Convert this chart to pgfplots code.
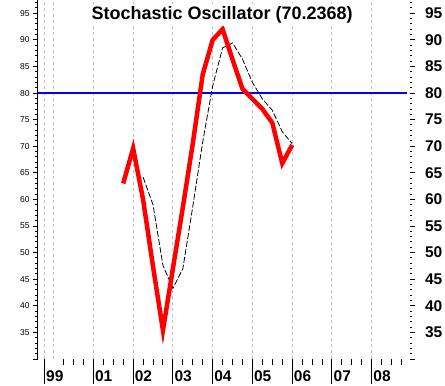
\documentclass[border=0pt]{standalone}
\usepackage{fontspec}
\setmainfont{Liberation Sans}
\usepackage{pgfplots}
\pgfplotsset{compat=1.18}
\definecolor{gridgray}{RGB}{190,190,190}
\begin{document}
\begin{tikzpicture}[x=1bp,y=1bp]
\path[use as bounding box] (0,0) rectangle (445,385);
% main axis: left ticks, grid, data
\begin{axis}[
  at={(37.7bp,26bp)}, anchor=south west,
  width=369bp, height=359bp, scale only axis,
  xmin=1999.60, xmax=2008.88, ymin=30, ymax=97.5,
  axis y line*=left, axis x line*=bottom,
  x axis line style={draw=none},
  y axis line style={black, line width=1bp},
  xtick={1999.77,2000,2001,2002,2003,2004,2005,2006,2007,2008},
  xticklabels={},
  major x tick style={draw=none},
  xmajorgrids,
  major grid style={gridgray, line width=1bp, dash pattern=on 3bp off 3bp},
  ytick={35,40,...,95},
  extra y ticks={30}, extra y tick labels={},
  minor ytick={31,32,...,97},
  tick align=outside,
  major tick length=4.5bp, minor tick length=2.5bp,
  y tick style={black, line width=1bp},
  yticklabel style={font=\fontsize{8.5bp}{10bp}\selectfont},
  /pgf/number format/assume math mode=true,
  clip=false,
]
\addplot[black, line width=0.8bp, dash pattern=on 6bp off 2bp] coordinates {
(2002.25,64.20) (2002.5,59.00) (2002.75,47.60) (2003.0,43.27) (2003.25,46.97)
(2003.5,58.67) (2003.75,70.83) (2004.0,81.33) (2004.25,88.50) (2004.5,89.43)
(2004.75,86.37) (2005.0,82.00) (2005.25,78.90) (2005.5,76.77) (2005.75,72.73)
(2006.0,70.48)};
\addplot[blue, line width=2bp] coordinates {(1999.60,80) (2008.88,80)};
\addplot[red, line width=4.5bp] coordinates {
(2001.75,63.0) (2002.0,69.6) (2002.25,60.0) (2002.5,47.4) (2002.75,35.4)
(2003.0,47.0) (2003.25,58.5) (2003.5,70.5) (2003.75,83.5) (2004.0,90.0)
(2004.25,92.0) (2004.5,86.3) (2004.75,80.8) (2005.0,78.9) (2005.25,77.0)
(2005.5,74.4) (2005.75,66.8) (2006.0,70.2368)};
\node[anchor=base, fill=white, inner sep=2.5bp,
  font=\bfseries\fontsize{18bp}{20bp}\selectfont]
  at ([yshift=-19.3bp]rel axis cs:0.5,1) {Stochastic Oscillator (70.2368)};
\end{axis}
% right ticks
\begin{axis}[
  at={(37.7bp,26bp)}, anchor=south west,
  width=372.3bp, height=359bp, scale only axis,
  xmin=1999.60, xmax=2008.88, ymin=30, ymax=97.5,
  hide x axis,
  axis y line*=right,
  y axis line style={draw=none},
  ytick={35,40,...,95},
  extra y ticks={30}, extra y tick labels={},
  minor ytick={31,32,...,97},
  tick align=outside,
  major tick length=4.5bp, minor tick length=2bp,
  y tick style={black, line width=1bp},
  yticklabel style={xshift=7bp, font=\bfseries\fontsize{15.5bp}{17bp}\selectfont},
  /pgf/number format/assume math mode=true,
]
\end{axis}
% bottom ticks
\begin{axis}[
  at={(37.7bp,26bp)}, anchor=south west,
  width=369bp, height=359bp, scale only axis,
  xmin=1999.60, xmax=2008.88, ymin=30, ymax=97.5,
  hide y axis,
  axis x line*=bottom,
  x axis line style={draw=none},
  xtick={1999.77,2001,2002,2003,2004,2005,2006,2007,2008},
  xticklabels={99,01,02,03,04,05,06,07,08},
  minor xtick={2000.25,2000.5,2000.75,2001.25,2001.5,2001.75,2002.25,2002.5,2002.75,
    2003.25,2003.5,2003.75,2004.25,2004.5,2004.75,2005.25,2005.5,2005.75,
    2006.25,2006.5,2006.75,2007.25,2007.5,2007.75,2008.25,2008.5,2008.75},
  tick align=outside,
  major tick length=25bp, minor tick length=6bp,
  x tick style={black, line width=1bp},
  xticklabel shift={-13.3bp},
  xticklabel style={anchor=north west, inner sep=0pt, xshift=1.5bp,
    font=\bfseries\fontsize{15.5bp}{17bp}\selectfont},
  /pgf/number format/assume math mode=true,
]
\end{axis}
\end{tikzpicture}
\end{document}
